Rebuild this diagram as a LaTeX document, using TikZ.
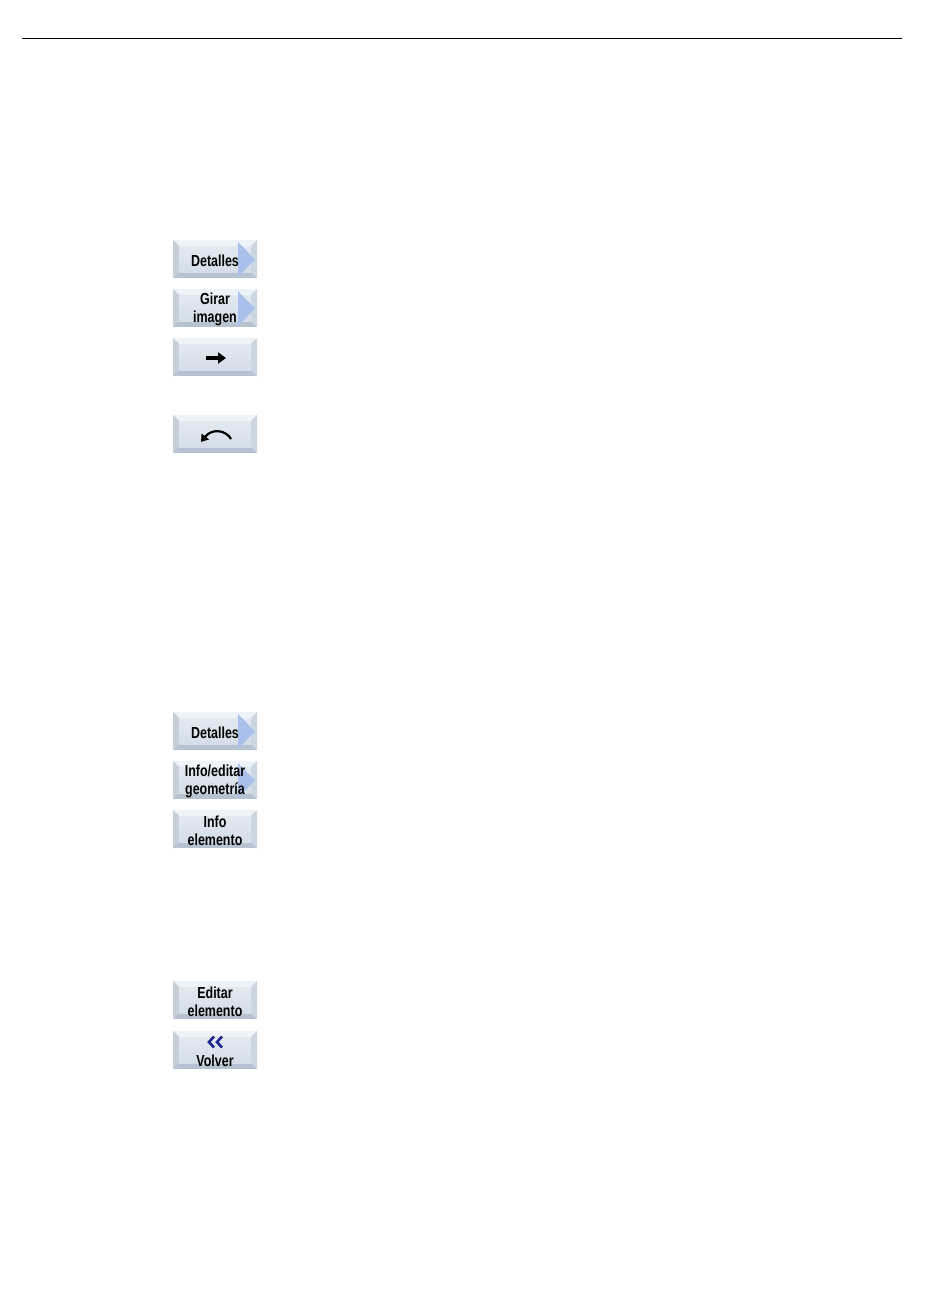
\documentclass[tikz,border=0pt]{standalone}
\usepackage{fontspec}
\usetikzlibrary{arrows.meta}
\newfontfamily\keyfont[FakeStretch=0.78]{Liberation Sans}
\definecolor{bevtopc}{HTML}{EEF3F8}
\definecolor{bevleftc}{HTML}{C6D0DA}
\definecolor{bevrightc}{HTML}{CCD6E1}
\definecolor{bevbotc}{HTML}{B6C2CF}
\definecolor{facetop}{HTML}{E2E9F1}
\definecolor{facebot}{HTML}{D4DEE8}
\definecolor{trianglec}{HTML}{A9C0EA}
\definecolor{chevronc}{HTML}{1C2290}
\tikzset{
  keytext/.style={font=\keyfont\bfseries\fontsize{16}{18}\selectfont, align=center, inner sep=0pt, text=black, yshift=-1.5pt},
  rulestyle/.style={line width=1pt, black},
  iconline/.style={line width=3.2pt, black},
}
\newcommand\softkey[3]{%
  \begin{scope}[shift={(173,#2)}]
    \fill[bevbotc] (0,0) rectangle (84,38);
    \fill[bevtopc] (0,0)--(84,0)--(78,6)--(6,6)--cycle;
    \fill[bevleftc] (0,0)--(6,6)--(6,32)--(0,38)--cycle;
    \fill[bevrightc] (84,0)--(78,6)--(78,32)--(84,38)--cycle;
    \shade[top color=facetop, bottom color=facebot] (6,6) rectangle (78,32);
  \end{scope}
  \coordinate (#1) at (215,#2+19);
}
\newcommand\keyarrow[1]{%
  \fill[trianglec] (238,#1+2)--(238,#1+37)--(255,#1+19.5)--cycle;
}
\begin{document}
\begin{tikzpicture}[x=1pt,y=-1pt]
\fill[white] (0,0) rectangle (950,1301);
\useasboundingbox (0,0) rectangle (950,1301);
\coordinate (ruleL) at (22,38);
\coordinate (ruleR) at (902,38);
\draw[rulestyle] (ruleL) -- (ruleR);

% first group
\softkey{k1}{240}{}
\keyarrow{240}
\node[keytext] (t1) at (k1) {Detalles};

\softkey{k2}{289}{}
\keyarrow{289}
\node[keytext] (t2) at (k2) {Girar\\imagen};

\softkey{k3}{338}{}
\coordinate (a3s) at (206,358);
\coordinate (a3e) at (226,358);
\draw[iconline, -{Triangle[length=8pt,width=11pt]}] (a3s) -- (a3e);

\softkey{k4}{415}{}
\coordinate (u1) at (231,439);
\coordinate (u2) at (201,442);
\draw[line width=2.2pt, -{Triangle[length=7pt,width=9pt]}] (u1) .. controls (226,430) and (212,428) .. (u2);

% second group
\softkey{k5}{712}{}
\keyarrow{712}
\node[keytext] (t5) at (k5) {Detalles};

\softkey{k6}{761}{}
\keyarrow{761}
\node[keytext] (t6) at (k6) {Info/editar\\geometría};

\softkey{k7}{810}{}
\node[keytext] (t7) at (k7) {Info\\elemento};

% third group
\softkey{k8}{981}{}
\node[keytext] (t8) at (k8) {Editar\\elemento};

\softkey{k9}{1031}{}
\draw[line width=2.6pt, chevronc] (214,1036.5)--(209,1042)--(214,1047.5);
\draw[line width=2.6pt, chevronc] (222,1036.5)--(217,1042)--(222,1047.5);
\node[keytext, anchor=base, yshift=1.5pt] (t9) at (215,1066) {Volver};
\end{tikzpicture}
\end{document}
